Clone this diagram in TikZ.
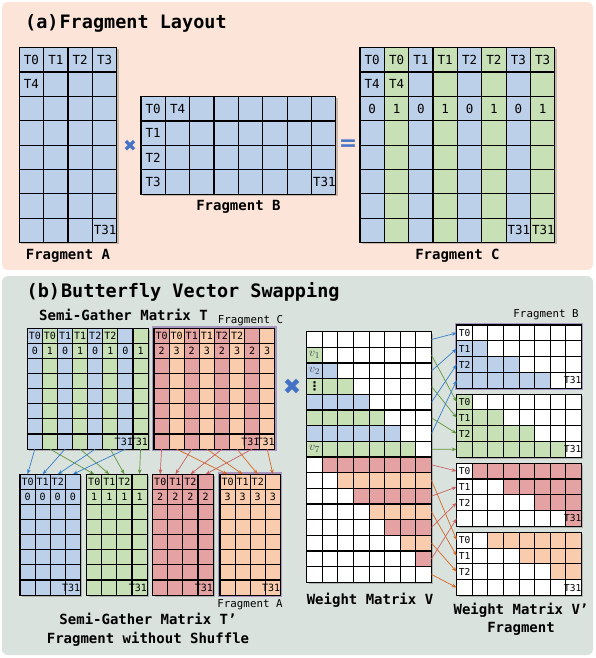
\documentclass[tikz,border=0pt]{standalone}
\usepackage{fontspec}
\setmonofont{DejaVu Sans Mono}
\newfontfamily\symfont{DejaVu Sans}
\usetikzlibrary{arrows.meta,positioning,fit}

\definecolor{cblue}{RGB}{189,208,234}
\definecolor{cgreen}{RGB}{199,224,181}
\definecolor{cred}{RGB}{228,162,162}
\definecolor{corange}{RGB}{248,204,172}
\definecolor{panela}{RGB}{252,229,216}
\definecolor{panelb}{RGB}{217,226,220}
\definecolor{fragline}{RGB}{168,150,190}
\definecolor{xblue}{RGB}{68,114,196}
\definecolor{ablue}{RGB}{52,128,205}
\definecolor{agreen}{RGB}{96,150,58}
\definecolor{ared}{RGB}{205,96,96}
\definecolor{aorange}{RGB}{214,104,36}
\definecolor{vgray}{RGB}{60,64,80}

\begin{document}
\begin{tikzpicture}[x=1pt, y=-1pt,
  cell/.style={draw, line width=1.15pt, inner sep=0pt, outer sep=0pt},
  acell/.style={cell, minimum width=24.35pt, minimum height=24.35pt},
  tcell/.style={cell, minimum width=15.1pt, minimum height=15.1pt},
  vcell/.style={cell, minimum width=15.6pt, minimum height=15.66pt},
  fcell/.style={cell, minimum width=15.6pt, minimum height=15.8pt},
  mshadow/.style={fill=black, opacity=0.2},
  albl/.style={font=\ttfamily\fontsize{12.5}{12.5}\selectfont, inner sep=0pt},
  tlbl/.style={font=\ttfamily\fontsize{10}{10}\selectfont, inner sep=0pt},
  flbl/.style={font=\ttfamily\fontsize{9.5}{9.5}\selectfont, inner sep=0pt},
  vlbl/.style={font=\fontsize{12.5}{12.5}\selectfont, text=vgray, inner sep=0pt},
  heading/.style={font=\ttfamily\bfseries\fontsize{18.5}{18.5}\selectfont, anchor=west, inner sep=0pt},
  capt/.style={font=\ttfamily\bfseries\fontsize{14}{18.5}\selectfont, inner sep=0pt, align=center},
  fragnote/.style={font=\ttfamily\fontsize{10.8}{10.8}\selectfont, inner sep=0pt},
  fragbox/.style={draw=fragline, line width=1.3pt, inner sep=1.3pt},
  timesign/.style={font=\symfont\fontsize{#1}{#1}\selectfont, text=xblue, inner sep=0pt},
  eqsign/.style={font=\symfont\bfseries\fontsize{#1}{#1}\selectfont, text=xblue, inner sep=0pt},
  link/.style={-{Stealth[length=5pt,width=3.6pt]}, line width=0.7pt}
]
\useasboundingbox (0,0) rectangle (595,658);
\fill[panela, rounded corners=6pt] (2,2) rectangle (593,270);
\fill[panelb, rounded corners=6pt] (2,276) rectangle (593,655);

% (a) fragment layout
\node[heading] (ta) at (25,23.5) {(a)\hspace{1pt}Fragment Layout};

% fragment A
\fill[mshadow] (21.1,49.5) rectangle (118.5,244.3);
\foreach \r in {0,...,7}
  \foreach \c in {0,...,3}
    \node[acell, fill=cblue] (A-\r-\c) at ({19.3+24.35*(\c+0.5)}, {47.7+24.35*(\r+0.5)}) {};
\foreach \n/\t in {A-0-0/T0, A-0-1/T1, A-0-2/T2, A-0-3/T3, A-1-0/T4}
  \node[albl] (l\n) at (\n) {\t};
\node[albl, anchor=east] (lA-7-3) at (A-7-3.east) {T31};
\node[capt] (capA) at (68,256) {Fragment A};

% fragment B
\fill[mshadow] (142.8,98.5) rectangle (337.6,195.9);
\foreach \r in {0,...,3}
  \foreach \c in {0,...,7}
    \node[acell, fill=cblue] (B-\r-\c) at ({141+24.35*(\c+0.5)}, {96.7+24.35*(\r+0.5)}) {};
\foreach \n/\t in {B-0-0/T0, B-0-1/T4, B-1-0/T1, B-2-0/T2, B-3-0/T3}
  \node[albl] (l\n) at (\n) {\t};
\node[albl, anchor=east] (lB-3-7) at (B-3-7.east) {T31};
\node[capt] (capB) at (238.4,207) {Fragment B};

% fragment C
\fill[mshadow] (361.8,49.5) rectangle (556.6,244.3);
\foreach \r in {0,...,7}
  \foreach \c in {0,...,7}{
    \ifodd\c \def\fc{cgreen}\else\def\fc{cblue}\fi
    \node[acell, fill=\fc] (C-\r-\c) at ({360+24.35*(\c+0.5)}, {47.7+24.35*(\r+0.5)}) {};
  }
\foreach \c/\t in {0/T0,1/T0,2/T1,3/T1,4/T2,5/T2,6/T3,7/T3}
  \node[albl] (lC-0-\c) at (C-0-\c) {\t};
\foreach \c in {0,1}
  \node[albl] (lC-1-\c) at (C-1-\c) {T4};
\foreach \c in {0,...,7}{
  \pgfmathtruncatemacro{\dg}{mod(\c,2)}
  \node[albl] (lC-2-\c) at (C-2-\c) {\dg};
}
\foreach \c in {6,7}
  \node[albl, anchor=east] (lC-7-\c) at (C-7-\c.east) {T31};
\node[capt] (capC) at (457.4,256) {Fragment C};

\node[timesign=16] (times) at (130,146) {✖};
\node[eqsign=22] (equals) at (348,145) {=};

% (b) butterfly vector swapping
\node[heading] (tb) at (26.5,292) {(b)\hspace{1pt}Butterfly Vector Swapping};
\node[capt] (capT) at (123.5,315) {Semi-Gather Matrix T};
\node[fragnote] (noteC) at (250.5,321) {Fragment C};

% semi-gather matrix T
\fill[mshadow] (29.1,330.1) rectangle (149.9,450.9);
\fill[mshadow] (155.8,330.1) rectangle (276.6,450.9);
\foreach \r in {0,...,7}
  \foreach \c in {0,...,7}{
    \ifodd\c \def\fc{cgreen}\else\def\fc{cblue}\fi
    \node[tcell, fill=\fc] (TL-\r-\c) at ({27.3+15.1*(\c+0.5)}, {328.3+15.1*(\r+0.5)}) {};
    \ifodd\c \def\fc{corange}\else\def\fc{cred}\fi
    \node[tcell, fill=\fc] (TR-\r-\c) at ({154+15.1*(\c+0.5)}, {328.3+15.1*(\r+0.5)}) {};
  }
\foreach \m/\p/\q in {TL/0/1, TR/2/3}{
  \foreach \c/\t in {0/T0,1/T0,2/T1,3/T1,4/T2,5/T2}
    \node[tlbl] (l\m-0-\c) at (\m-0-\c) {\t};
  \foreach \c in {0,2,4,6}
    \node[tlbl] (l\m-1-\c) at (\m-1-\c) {\p};
  \foreach \c in {1,3,5,7}
    \node[tlbl] (l\m-1-\c) at (\m-1-\c) {\q};
  \foreach \c in {6,7}
    \node[tlbl, anchor=east] (l\m-7-\c) at (\m-7-\c.east) {T31};
}
\node[fragbox, fit=(TR-0-0)(TR-7-7)] (fragC) {};

% semi-gather matrix T' without shuffle
\foreach \pb/\xo/\fc in {0/20/cblue, 1/86.7/cgreen, 2/152.7/cred, 3/220/corange}{
  \fill[mshadow] ({\xo+1.8},476.1) rectangle ({\xo+62.2},596.9);
  \foreach \r in {0,...,7}
    \foreach \c in {0,...,3}
      \node[tcell, fill=\fc] (P\pb-\r-\c) at ({\xo+15.1*(\c+0.5)}, {474.3+15.1*(\r+0.5)}) {};
  \foreach \c/\t in {0/T0,1/T1,2/T2}
    \node[tlbl] (lP\pb-0-\c) at (P\pb-0-\c) {\t};
  \foreach \c in {0,...,3}
    \node[tlbl] (lP\pb-1-\c) at (P\pb-1-\c) {\pb};
  \node[tlbl, anchor=east] (lP\pb-7-3) at (P\pb-7-3.east) {T31};
}
\node[fragbox, fit=(P3-0-0)(P3-7-3)] (fragA) {};
\node[fragnote] (noteA) at (250,604.5) {Fragment A};
\node[capt] (capP) at (148,630) {Semi-Gather Matrix T’\\Fragment without Shuffle};

\foreach \c in {0,...,7}{
  \pgfmathtruncatemacro{\pb}{mod(\c,2)}
  \pgfmathtruncatemacro{\pq}{mod(\c,2)+2}
  \pgfmathtruncatemacro{\pj}{div(\c,2)}
  \ifodd\c \def\ac{agreen}\else\def\ac{ablue}\fi
  \draw[link, draw=\ac] (TL-7-\c.south) -- (P\pb-0-\pj.north);
  \ifodd\c \def\ac{aorange}\else\def\ac{ared}\fi
  \draw[link, draw=\ac] (TR-7-\c.south) -- (P\pq-0-\pj.north);
}

\node[timesign=22] (times2) at (292,387) {✖};

% weight matrix V
\fill[mshadow] (308.5,333.5) rectangle (433.3,584.1);
\foreach \r in {0,...,15}
  \foreach \c in {0,...,7}{
    \pgfmathtruncatemacro{\on}{or(and(\r<8,\c<\r),and(\r>7,\c>\r-8))}
    \pgfmathtruncatemacro{\ci}{\on*(1+mod(\r,2)+2*(\r>7))}
    \ifcase\ci \def\fc{white}\or\def\fc{cblue}\or\def\fc{cgreen}\or\def\fc{cred}\or\def\fc{corange}\fi
    \node[vcell, fill=\fc] (V-\r-\c) at ({306.7+15.6*(\c+0.5)}, {331.7+15.66*(\r+0.5)}) {};
  }
\foreach \r/\t in {1/$v_1$, 2/$v_2$, 7/$v_7$}
  \node[vlbl] (lV-\r-0) at (V-\r-0) {\t};
\node[vlbl, font=\symfont\bfseries\fontsize{12}{12}\selectfont, text=black] (lV-3-0) at (V-3-0) {⋮};
\node[capt] (capV) at (370,600) {Weight Matrix V};

% weight matrix V' fragments
\foreach \f in {0,...,3}{
  \pgfmathsetmacro{\yo}{325+69.1*\f}
  \fill[mshadow] (458.5,{\yo+1.8}) rectangle (583.3,{\yo+65});
  \foreach \rr in {0,...,3}
    \foreach \c in {0,...,7}{
      \pgfmathtruncatemacro{\vr}{ifthenelse(\f<2, 2*\rr+\f, 6+2*\rr+\f)}
      \pgfmathtruncatemacro{\on}{or(and(\vr<8,\c<\vr),and(\vr>7,\c>\vr-8))}
      \pgfmathtruncatemacro{\ci}{\on*(\f+1)}
      \ifcase\ci \def\fc{white}\or\def\fc{cblue}\or\def\fc{cgreen}\or\def\fc{cred}\or\def\fc{corange}\fi
      \node[fcell, fill=\fc] (F\f-\rr-\c) at ({456.7+15.6*(\c+0.5)}, {\yo+15.8*(\rr+0.5)}) {};
    }
  \foreach \rr/\t in {0/T0,1/T1,2/T2}
    \node[flbl] (lF\f-\rr-0) at (F\f-\rr-0) {\t};
  \node[flbl, anchor=east] (lF\f-3-7) at (F\f-3-7.east) {T31};
}
\node[fragbox, fit=(F0-0-0)(F0-3-7)] (fragB) {};
\node[fragnote] (noteB) at (546,314.3) {Fragment B};
\node[capt] (capF) at (521,619.5) {Weight Matrix V’\\Fragment};

\foreach \r in {0,...,15}{
  \pgfmathtruncatemacro{\pf}{ifthenelse(\r<8, mod(\r,2), 2+mod(\r,2))}
  \pgfmathtruncatemacro{\pj}{div(mod(\r,8),2)}
  \ifcase\pf \def\ac{ablue}\or\def\ac{agreen}\or\def\ac{ared}\or\def\ac{aorange}\fi
  \draw[link, draw=\ac] (V-\r-7.east) -- (F\pf-\pj-0.west);
}
\end{tikzpicture}
\end{document}
